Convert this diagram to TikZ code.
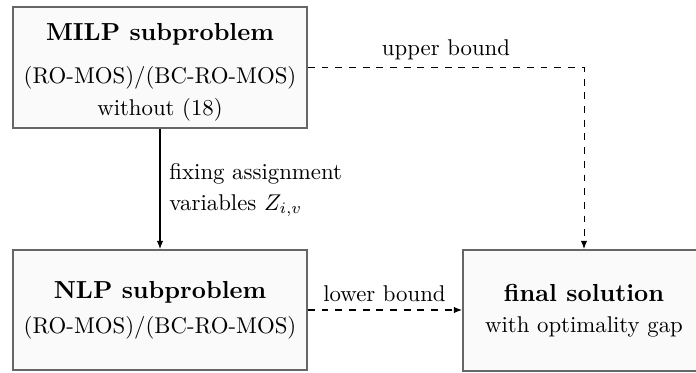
\documentclass[tikz,border=0pt]{standalone}
\usetikzlibrary{arrows.meta}
\begin{document}
\begin{tikzpicture}[
  x=0.4386pt, y=-0.4386pt,
  box/.style={draw=black!60, fill=black!2, line width=0.85pt, inner sep=0pt,
              rectangle, anchor=center},
  title/.style={anchor=base, font={\fontsize{10.8}{13}\selectfont\bfseries}, inner sep=0pt},
  txt/.style={anchor=base, inner sep=0pt},
  flow/.style={draw=black, line width=0.45pt, -{Latex[length=3.6pt,width=2.8pt]}},
  bound/.style={flow, dashed},
  lbl/.style={anchor=base, inner sep=0pt}
]
\useasboundingbox (0,0) rectangle (696,372);

% process boxes (sizes in pt: 294px = 128.95pt, 121px = 53.07pt)
\node[box, minimum width=128.95pt, minimum height=53.07pt] (milp) at (160,67.5) {};
\node[box, minimum width=128.95pt, minimum height=52.63pt] (nlp) at (160,310) {};
\node[box, minimum width=106.14pt, minimum height=53.07pt] (final) at (584,310.5) {};

% box texts
\node[title] (milpt) at (160,40.7) {MILP subproblem};
\node[txt] (milpa) at (160,83.3) {(RO-MOS)/(BC-RO-MOS)};
\node[txt] (milpb) at (160,115) {without (18)};

\node[title] (nlpt) at (160,298.3) {NLP subproblem};
\node[txt] (nlpa) at (160,333.3) {(RO-MOS)/(BC-RO-MOS)};

\node[title] (fint) at (584,301.7) {final solution};
\node[txt] (fina) at (584,332.7) {with optimality gap};

% connectors
\draw[flow] (milp.south) -- (nlp.north);
\draw[bound] (milp.east) -| (final.north);
\draw[bound] (nlp.east) -- (final.west |- nlp.east);

% connector labels (base anchor sits on the last line)
\node[anchor=base west, inner sep=0pt, align=left,
      font={\fontsize{10}{13.6}\selectfont}] (fix) at (169,210)
  {fixing assignment\\variables $Z_{i,v}$};
\node[lbl] (ub) at (446,55) {upper bound};
\node[lbl] (lb) at (384.5,301.7) {lower bound};
\end{tikzpicture}
\end{document}
